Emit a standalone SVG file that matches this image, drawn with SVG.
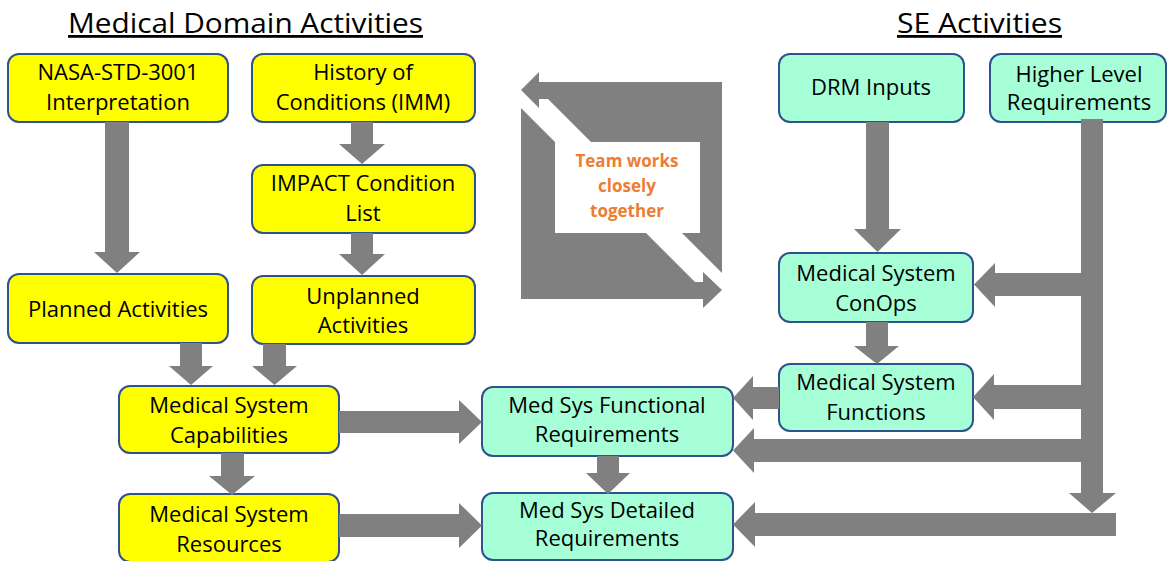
<svg xmlns="http://www.w3.org/2000/svg" width="1167" height="561" viewBox="0 0 1167 561">
  <style>
    .title { font-family: "Open Sans", "Liberation Sans", sans-serif; font-size: 28px; fill: #000; text-decoration: underline; }
    .med rect { fill: #FFFF00; stroke: #2F528F; stroke-width: 2; }
    .se rect { fill: #A6FFD6; stroke: #2F528F; stroke-width: 2; }
    .lbl { font-family: "Open Sans", "Liberation Sans", sans-serif; font-size: 22px; fill: #000; text-anchor: middle; }
    .arrow { fill: #808080; }
    .team { font-family: "Open Sans", "Liberation Sans", sans-serif; font-size: 17px; font-weight: bold; fill: #ED7D31; text-anchor: middle; }
  </style>

  <!-- section headings -->
  <text class="title" x="68" y="33" textLength="355" lengthAdjust="spacingAndGlyphs">Medical Domain Activities</text>
  <text class="title" x="897" y="33" textLength="165" lengthAdjust="spacingAndGlyphs">SE Activities</text>

  <!-- medical domain nodes -->
  <g id="nasa-std" class="med">
    <rect x="8" y="54" width="220" height="68" rx="11"/>
    <text class="lbl" x="118" y="80">NASA-STD-3001</text>
    <text class="lbl" x="118" y="110">Interpretation</text>
  </g>
  <g id="history" class="med">
    <rect x="252" y="54" width="223" height="68" rx="11"/>
    <text class="lbl" x="363" y="80">History of</text>
    <text class="lbl" x="363" y="110">Conditions (IMM)</text>
  </g>
  <g id="impact" class="med">
    <rect x="252" y="165" width="223" height="68" rx="11"/>
    <text class="lbl" x="363" y="191">IMPACT Condition</text>
    <text class="lbl" x="363" y="221">List</text>
  </g>
  <g id="planned" class="med">
    <rect x="8" y="274" width="220" height="69" rx="11"/>
    <text class="lbl" x="118" y="317">Planned Activities</text>
  </g>
  <g id="unplanned" class="med">
    <rect x="252" y="276" width="223" height="68" rx="11"/>
    <text class="lbl" x="363" y="304">Unplanned</text>
    <text class="lbl" x="363" y="333">Activities</text>
  </g>
  <g id="capabilities" class="med">
    <rect x="119" y="386" width="220" height="67" rx="11"/>
    <text class="lbl" x="229" y="413">Medical System</text>
    <text class="lbl" x="229" y="443">Capabilities</text>
  </g>
  <g id="resources" class="med">
    <rect x="119" y="494" width="220" height="68" rx="11"/>
    <text class="lbl" x="229" y="522">Medical System</text>
    <text class="lbl" x="229" y="552">Resources</text>
  </g>

  <!-- SE nodes -->
  <g id="drm" class="se">
    <rect x="779" y="54" width="185" height="68" rx="11"/>
    <text class="lbl" x="871" y="95">DRM Inputs</text>
  </g>
  <g id="higher-level" class="se">
    <rect x="990" y="54" width="176" height="68" rx="11"/>
    <text class="lbl" x="1079" y="82">Higher Level</text>
    <text class="lbl" x="1079" y="110">Requirements</text>
  </g>
  <g id="conops" class="se">
    <rect x="779" y="253" width="194" height="69" rx="11"/>
    <text class="lbl" x="876" y="281">Medical System</text>
    <text class="lbl" x="876" y="311">ConOps</text>
  </g>
  <g id="functions" class="se">
    <rect x="779" y="364" width="194" height="67" rx="11"/>
    <text class="lbl" x="876" y="390">Medical System</text>
    <text class="lbl" x="876" y="420">Functions</text>
  </g>
  <g id="func-req" class="se">
    <rect x="482" y="387" width="251" height="69" rx="11"/>
    <text class="lbl" x="607" y="413">Med Sys Functional</text>
    <text class="lbl" x="607" y="442">Requirements</text>
  </g>
  <g id="detailed-req" class="se">
    <rect x="482" y="493" width="251" height="67" rx="11"/>
    <text class="lbl" x="607" y="518">Med Sys Detailed</text>
    <text class="lbl" x="607" y="546">Requirements</text>
  </g>

  <!-- block arrows -->
  <g id="connectors" class="arrow">
    <!-- downward -->
    <polygon points="105,122 129,122 129,252 140,252 117,273 94,252 105,252"/>
    <polygon points="351,122 373,122 373,144 385,144 362,164 339,144 351,144"/>
    <polygon points="351,233 373,233 373,254 385,254 362,275 339,254 351,254"/>
    <polygon points="180,343 202,343 202,366 213,366 191,385 169,366 180,366"/>
    <polygon points="263,344 286,344 286,366 297,366 274.5,385 252,366 263,366"/>
    <polygon points="221,453 244,453 244,476 255,476 232,495 209,476 221,476"/>
    <polygon points="597,456 619,456 619,473 630,473 608,494 586,473 597,473"/>
    <polygon points="866,122 889,122 889,229 901,229 877.5,252 854,229 866,229"/>
    <polygon points="866,322 888,322 888,346 899,346 877,364 854,346 866,346"/>
    <polygon points="1081,119 1103,119 1103,493 1116,493 1092,513 1069,493 1081,493"/>
    <!-- rightward -->
    <polygon points="339,411 459,411 459,400 482,422 459,444 459,433 339,433"/>
    <polygon points="339,514 459,514 459,503 482,525.5 459,548 459,537 339,537"/>
    <!-- leftward -->
    <polygon points="1092,273 995,273 995,263 974,284.5 995,307 995,296 1092,296"/>
    <polygon points="1092,385 994,385 994,374 973,397 994,420 994,409 1092,409"/>
    <polygon points="1092,439 754,439 754,428 733,450.5 754,473 754,462 1092,462"/>
    <polygon points="1116,513 755,513 755,502 733,524.5 755,547 755,536 1116,536"/>
    <polygon points="779,387 753,387 753,376 733,398 753,420 753,409 779,409"/>
  </g>

  <!-- paired bent arrows with caption -->
  <g id="team-loop">
    <polygon class="arrow" points="539,72 521,90 539,108 539,99 548,99 722,273 722,82 539,82"/>
    <polygon class="arrow" points="521,108 695,282 703,282 703,272 722,290 703,308 703,299 521,299"/>
    <rect x="555" y="142" width="145" height="91" fill="#FFFFFF"/>
    <text class="team" x="627" y="167">Team works</text>
    <text class="team" x="627" y="192">closely</text>
    <text class="team" x="627" y="217">together</text>
  </g>
</svg>
